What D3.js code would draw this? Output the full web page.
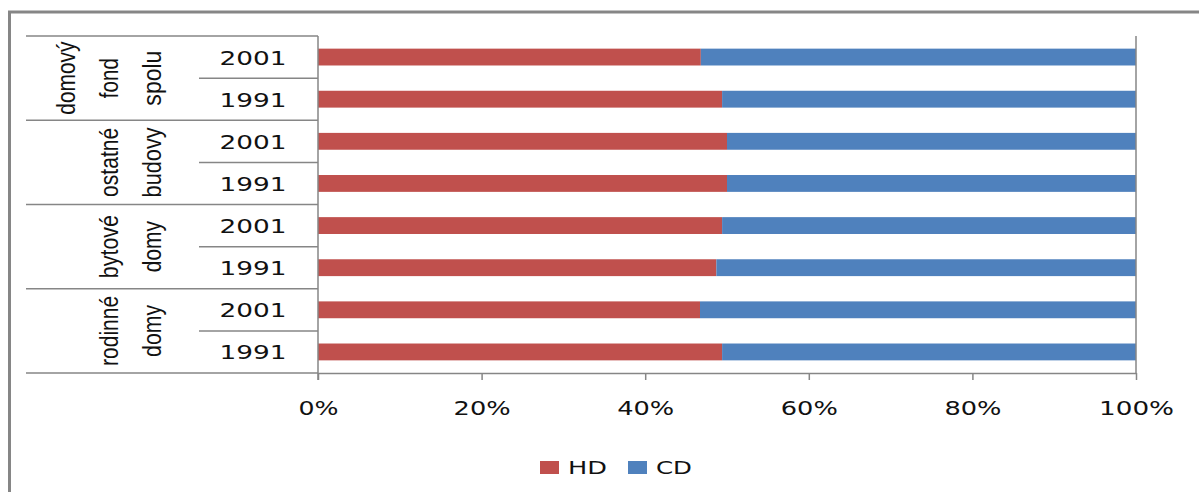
<!DOCTYPE html>
<html>
<head>
<meta charset="utf-8">
<script src="https://cdn.jsdelivr.net/npm/d3@7/dist/d3.min.js"></script>
<style>
  html, body { margin: 0; padding: 0; background: #fff; }
  svg { display: block; }
</style>
</head>
<body>
<svg id="chart" width="1199" height="492"></svg>
<script>
// Building groups (each label broken into lines) and census years per group
const groups = [
  ["domový", "fond", "spolu"],
  ["ostatné", "budovy"],
  ["bytové", "domy"],
  ["rodinné", "domy"]
];
const years = ["2001", "1991"];
// Share of HD and CD (%) for each row, top to bottom
const hdValues = [46.8, 49.4, 50.0, 50.0, 49.4, 48.7, 46.7, 49.4];
const cdValues = [53.2, 50.6, 50.0, 50.0, 50.6, 51.3, 53.3, 50.6];
const seriesNames = ["HD", "CD"];
const tickValues = [0, 20, 40, 60, 80, 100];

const colors = { HD: "#C0504D", CD: "#4F81BD" };
const lineColor = "#868686";

// One row per group/year pair
const rows = [];
groups.forEach((g, gi) => years.forEach((yr, yi) => {
  const i = rows.length;
  rows.push({ id: gi + "-" + yr, group: gi, year: yr, HD: hdValues[i], CD: cdValues[i] });
}));

const svg = d3.select("#chart");

// Outer frame (right and bottom edges run past the canvas)
svg.append("rect")
  .attr("x", 9.5).attr("y", 12)
  .attr("width", 1300).attr("height", 600)
  .attr("fill", "none").attr("stroke", lineColor).attr("stroke-width", 3);

const plotLeft = 318, plotRight = 1136, plotTop = 36, plotBottom = 373;

const x = d3.scaleLinear().domain([0, 100]).range([plotLeft, plotRight]);
const y = d3.scaleBand()
  .domain(rows.map(r => r.id))
  .range([plotTop, plotBottom])
  .paddingInner(0.6)
  .paddingOuter(0.3);
const step = y.step();

// Stacked bars
const stack = d3.stack().keys(seriesNames)(rows);
svg.append("g").selectAll("g")
  .data(stack)
  .join("g")
  .attr("fill", d => colors[d.key])
  .selectAll("rect")
  .data(d => d)
  .join("rect")
  .attr("x", d => x(d[0]))
  .attr("width", d => x(d[1]) - x(d[0]))
  .attr("y", d => y(d.data.id))
  .attr("height", y.bandwidth());

// Category table lines on the left
const table = svg.append("g").attr("stroke", lineColor).attr("stroke-width", 1.5);
const groupLeft = 26, yearLeft = 199;
for (let i = 0; i <= rows.length; i++) {
  const yy = plotTop + i * step;
  const isGroupEdge = i % years.length === 0;
  table.append("line")
    .attr("x1", isGroupEdge ? groupLeft : yearLeft)
    .attr("x2", plotLeft)
    .attr("y1", yy).attr("y2", yy);
}
// Left and right vertical lines of the value area
table.append("line").attr("x1", plotLeft).attr("x2", plotLeft)
  .attr("y1", plotTop).attr("y2", plotBottom + 7);
table.append("line").attr("x1", x(100)).attr("x2", x(100))
  .attr("y1", plotTop).attr("y2", plotBottom);

// Year labels
const digitFont = "'DejaVu Sans', Verdana, sans-serif";
svg.append("g").selectAll("text")
  .data(rows)
  .join("text")
  .attr("x", 253)
  .attr("y", d => y(d.id) + y.bandwidth() / 2 + 7.5)
  .attr("text-anchor", "middle")
  .attr("font-family", digitFont)
  .attr("font-size", 20)
  .attr("fill", "#111")
  .attr("textLength", 67)
  .attr("lengthAdjust", "spacingAndGlyphs")
  .text(d => d.year);

// Group labels, rotated, one text per line
const groupLengths = [[73, 40, 55], [69, 70], [63, 51], [70, 52]];
const baselines = [75, 118, 161];
groups.forEach((lines, gi) => {
  const cy = plotTop + (gi + 0.5) * years.length * step;
  const offset = baselines.length - lines.length;
  lines.forEach((ln, li) => {
    svg.append("text")
      .attr("transform", `translate(${baselines[offset + li]},${cy}) rotate(-90)`)
      .attr("text-anchor", "middle")
      .attr("font-family", "'Liberation Sans Narrow', 'Liberation Sans', Arial, sans-serif")
      .attr("font-size", 25)
      .attr("fill", "#111")
      .attr("textLength", groupLengths[gi][li])
      .attr("lengthAdjust", "spacingAndGlyphs")
      .text(ln);
  });
});

// Value axis
const tickLengths = { 0: 40, 20: 57, 40: 57, 60: 57, 80: 57, 100: 75 };
const axis = svg.append("g")
  .attr("transform", `translate(0,${plotBottom})`)
  .call(d3.axisBottom(x).tickValues(tickValues).tickSize(7).tickSizeOuter(0)
    .tickFormat(d => d + "%"));
axis.select(".domain").attr("stroke", lineColor).attr("stroke-width", 1.5);
axis.selectAll(".tick line").attr("stroke", lineColor).attr("stroke-width", 1.5);
axis.selectAll(".tick text")
  .attr("y", 42).attr("dy", null)
  .attr("font-family", digitFont)
  .attr("font-size", 20)
  .attr("fill", "#111")
  .attr("textLength", d => tickLengths[d])
  .attr("lengthAdjust", "spacingAndGlyphs");

// Legend
const legendItems = [
  { key: "HD", x: 540, w: 39 },
  { key: "CD", x: 628, w: 36 }
];
const legend = svg.append("g");
legendItems.forEach(it => {
  legend.append("rect")
    .attr("x", it.x).attr("y", 461)
    .attr("width", 19).attr("height", 13)
    .attr("fill", colors[it.key]);
  legend.append("text")
    .attr("x", it.x + 28).attr("y", 474)
    .attr("font-family", digitFont)
    .attr("font-size", 18)
    .attr("fill", "#111")
    .attr("textLength", it.w)
    .attr("lengthAdjust", "spacingAndGlyphs")
    .text(it.key);
});
</script>
</body>
</html>
